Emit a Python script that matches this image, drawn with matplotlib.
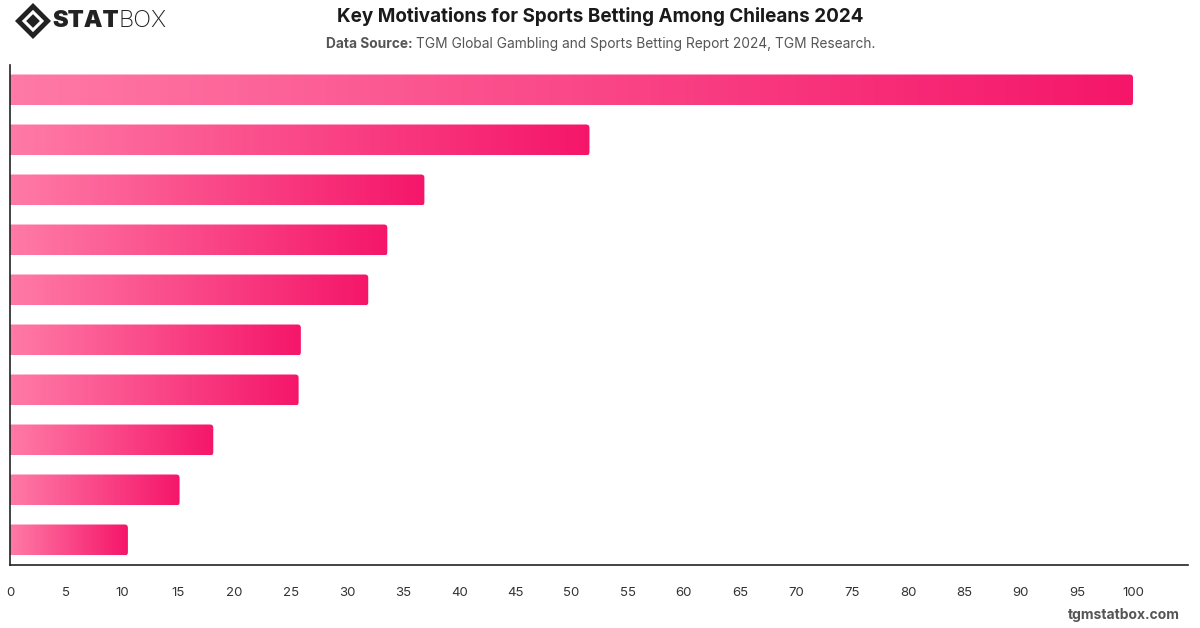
import numpy as np
import matplotlib.pyplot as plt
from matplotlib.patches import FancyBboxPatch, Polygon
from matplotlib.colors import LinearSegmentedColormap

plt.rcParams['font.family'] = ['Inter', 'DejaVu Sans']

# values, top bar first (no category labels shown)
values = [100.0, 51.6, 36.9, 33.6, 31.9, 25.9, 25.7, 18.1, 15.1, 10.5]
x_ticks = list(range(0, 101, 5))

title = "Key Motivations for Sports Betting Among Chileans 2024"
source = "TGM Global Gambling and Sports Betting Report 2024, TGM Research."

pink = LinearSegmentedColormap.from_list("pink", ["#ff7aa6", "#f5166a"])

fig = plt.figure(figsize=(12, 6.28), dpi=100)
ax = fig.add_axes([10 / 1200, 1 - 565 / 628, 1178 / 1200, 500 / 628])

px_per_unit = 11.23
ax.set_xlim(0, 1178 / px_per_unit)
ax.set_ylim(len(values) - 0.5, -0.5)

grad = np.linspace(0, 1, 256).reshape(1, -1)
bar_h = 0.62
for i, v in enumerate(values):
    im = ax.imshow(grad, cmap=pink, aspect='auto',
                   extent=[0, v, i + bar_h / 2, i - bar_h / 2], zorder=2)
    box = FancyBboxPatch((-2, i - bar_h / 2), v + 2, bar_h,
                         boxstyle="round,pad=0,rounding_size=0.3",
                         mutation_aspect=0.22, transform=ax.transData,
                         facecolor='none', edgecolor='none')
    ax.add_patch(box)
    im.set_clip_path(box)

ax.set_xticks(x_ticks)
ax.set_xticklabels([str(t) for t in x_ticks])
ax.set_yticks([])
ax.tick_params(axis='x', length=0, pad=16, labelsize=9.5, labelcolor='#333333')
for s in ['top', 'right']:
    ax.spines[s].set_visible(False)
for s in ['left', 'bottom']:
    ax.spines[s].set_color('#222222')
    ax.spines[s].set_linewidth(1.2)

# title and source
fig.text(0.5, 1 - 17 / 628, title, ha='center', va='center',
         fontsize=13.6, fontweight='bold', color='#1a1a1a')
t1 = fig.text(326 / 1200, 1 - 44 / 628, "Data Source: ", ha='left', va='center',
              fontsize=9.9, fontweight='bold', color='#555555')
fig.canvas.draw()
bb = t1.get_window_extent()
fig.text(bb.x1 / 1200, 1 - 44 / 628, source, ha='left', va='center',
         fontsize=9.9, color='#555555')

# logo
cx, cy = 33 / 1200, 1 - 21 / 628
sx, sy = 18 / 1200, 18 / 628
outer = Polygon([[cx - sx, cy], [cx, cy + sy], [cx + sx, cy], [cx, cy - sy]],
                closed=True, transform=fig.transFigure, facecolor='#222222', edgecolor='none')
mid = Polygon([[cx - sx * 0.62, cy], [cx, cy + sy * 0.62], [cx + sx * 0.62, cy], [cx, cy - sy * 0.62]],
              closed=True, transform=fig.transFigure, facecolor='white', edgecolor='none')
inner = Polygon([[cx - sx * 0.38, cy], [cx, cy + sy * 0.38], [cx + sx * 0.38, cy], [cx, cy - sy * 0.38]],
                closed=True, transform=fig.transFigure, facecolor='#222222', edgecolor='none')
for p in (outer, mid, inner):
    fig.add_artist(p)
t2 = fig.text(52 / 1200, cy, "STAT", ha='left', va='center', fontsize=17,
              fontweight='black', color='#222222')
fig.canvas.draw()
bb2 = t2.get_window_extent()
fig.text(bb2.x1 / 1200, cy, "BOX", ha='left', va='center', fontsize=17,
         fontweight='light', color='#222222')

fig.text(1180 / 1200, 1 - 615 / 628, "tgmstatbox.com", ha='right', va='center',
         fontsize=10, fontweight='bold', color='#555555')

fig.savefig('out.png', dpi=100)
